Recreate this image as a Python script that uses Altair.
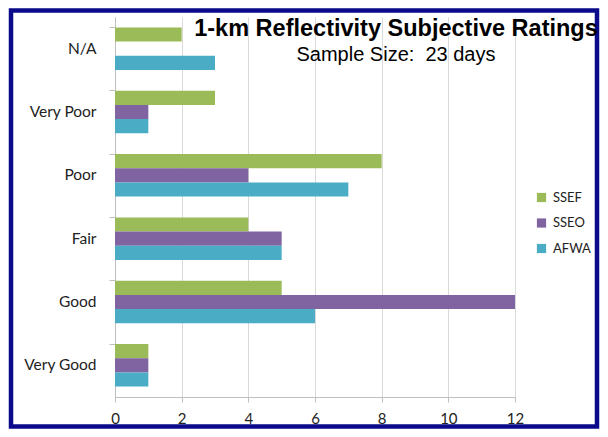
import altair as alt
import pandas as pd

categories = ["N/A", "Very Poor", "Poor", "Fair", "Good", "Very Good"]
series = ["SSEF", "SSEO", "AFWA"]
ssef = [2, 3, 8, 4, 5, 1]
sseo = [0, 1, 4, 5, 12, 1]
afwa = [3, 1, 7, 5, 6, 1]
colors = ["#9BBB59", "#8064A2", "#4BACC6"]
x_ticks = [0, 2, 4, 6, 8, 10, 12]

rows = []
for s, vals in zip(series, [ssef, sseo, afwa]):
    for c, v in zip(categories, vals):
        rows.append({"Rating": c, "Model": s, "Days": v})
df = pd.DataFrame(rows)

bars = alt.Chart(df).mark_bar().encode(
    x=alt.X("Days:Q", scale=alt.Scale(domain=[0, 12], nice=False),
            axis=alt.Axis(values=x_ticks, title=None, grid=True, gridColor="#d9d9d9",
                          domain=True, domainColor="#bfbfbf", tickColor="#bfbfbf",
                          tickSize=5, labelFlush=False,
                          labelFont="Lato", labelFontSize=15, labelColor="#222",
                          labelPadding=9)),
    y=alt.Y("Rating:N", sort=categories,
            scale=alt.Scale(paddingInner=0.33, paddingOuter=0.165),
            axis=alt.Axis(title=None, bandPosition=0, tickSize=6, tickColor="#bfbfbf",
                          domainColor="#bfbfbf", labelFont="Lato", labelFontSize=15.5,
                          labelColor="#222", labelPadding=13)),
    yOffset=alt.YOffset("Model:N", sort=series,
                        scale=alt.Scale(paddingInner=0, paddingOuter=0)),
    color=alt.Color("Model:N", sort=series,
                    scale=alt.Scale(domain=series, range=colors),
                    legend=alt.Legend(title=None, orient="none", legendX=420, legendY=174,
                                      symbolType="square", symbolSize=85,
                                      symbolStrokeWidth=0, labelFont="Lato",
                                      labelFontSize=13, labelColor="#222", rowPadding=11.5,
                                      labelOffset=5)),
)

frame = alt.Chart(pd.DataFrame({"f": [0]})).mark_rect(
    fill=None, stroke="#0a0a8a", strokeWidth=4.5
).encode(
    x=alt.value(-104), x2=alt.value(482), y=alt.value(-6.5), y2=alt.value(409.5)
)

chart = alt.layer(bars, frame).properties(
    width=400, height=380,
    padding={"left": 107, "top": 9, "right": 85, "bottom": 32},
    autosize=alt.AutoSizeParams(type="none"),
    title=alt.TitleParams(
        text="1-km Reflectivity Subjective Ratings",
        subtitle="Sample Size:\u00a0 23 days",
        anchor="middle", dx=81, offset=-57,
        font="Liberation Sans", fontSize=23.5, fontWeight="bold", color="#000",
        subtitleFont="Liberation Sans", subtitleFontSize=20, subtitleColor="#000",
        subtitlePadding=5,
    ),
).configure_view(stroke=None)

chart.save("out.html", embed_options={"renderer": "svg", "actions": False})
